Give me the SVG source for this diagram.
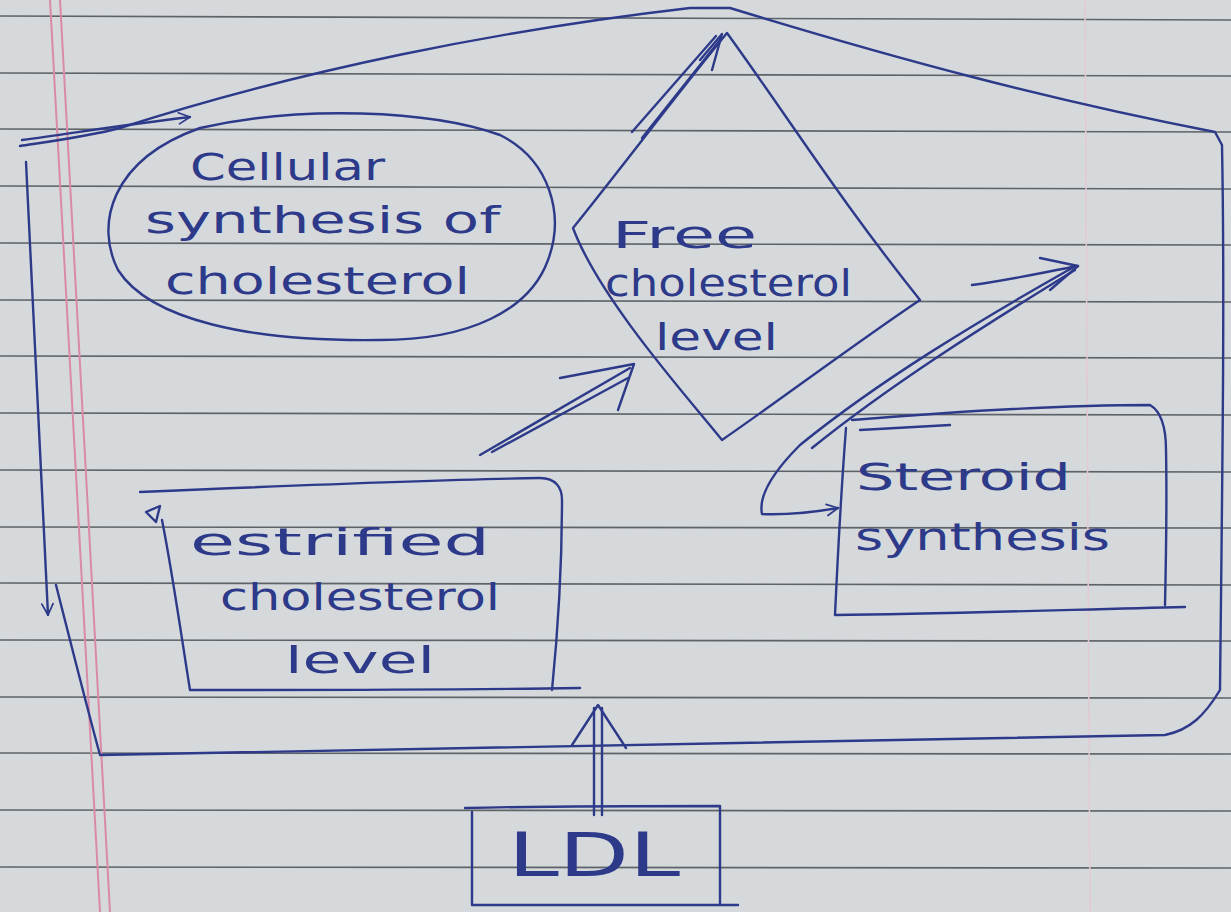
<svg xmlns="http://www.w3.org/2000/svg" width="1231" height="912" viewBox="0 0 1231 912">
<defs>
<style>
.paper{fill:#d6d9dc}
.rule{stroke:#5d6369;stroke-width:1.6;fill:none}
.margin{stroke:#d98aa6;stroke-width:2;fill:none}
.ink{stroke:#2d3a8a;stroke-width:2.4;fill:none;stroke-linecap:round;stroke-linejoin:round}
.txt{fill:#2d3a8a;font-family:"DejaVu Sans","Liberation Sans",sans-serif;font-size:38px}
</style>
<marker id="ah" viewBox="0 0 20 20" refX="18" refY="10" markerWidth="14" markerHeight="14" markerUnits="userSpaceOnUse" orient="auto-start-reverse">
<path d="M2,2 L18,10 L2,18" fill="none" stroke="#2d3a8a" stroke-width="2.5" stroke-linecap="round" stroke-linejoin="round"/>
</marker>
</defs>
<rect class="paper" x="0" y="0" width="1231" height="912"/>
<g id="paper-rules">
<path class="rule" d="M0,16 L1231,20 M0,73 L1231,76 M0,129 L1231,132 M0,186 L1231,189 M0,243 L1231,245 M0,300 L1231,302 M0,356 L1231,358 M0,413 L1231,415 M0,470 L1231,472 M0,527 L1231,528 M0,583 L1231,585 M0,640 L1231,641 M0,697 L1231,698 M0,753 L1231,754 M0,810 L1231,811 M0,867 L1231,868"/>
<path class="margin" d="M50,0 L100,912 M60,0 L110,912"/>
<path d="M1085,0 L1090,912" stroke="#e3c9d2" stroke-width="1.5" fill="none"/>
</g>
<g id="connectors">
<path class="ink" d="M20,146 C60,140 90,136 120,128 C300,70 500,30 690,8 L730,8 C900,60 1050,100 1215,132 L1222,145 C1225,300 1222,500 1220,690 C1205,715 1190,730 1165,735 C900,740 500,748 100,755 C85,700 70,640 56,585"/>
<path class="ink" d="M26,162 C32,300 40,450 48,615" marker-end="url(#ah)"/>
<path class="ink" d="M22,140 C80,132 130,124 190,117" marker-end="url(#ah)"/>
<path class="ink" d="M632,132 L716,36 M642,138 L720,40"/>
<path class="ink" d="M700,60 L722,34 L712,70"/>
<path class="ink" d="M480,455 L630,368 M492,452 L628,378"/>
<path class="ink" d="M560,378 L634,364 L618,410"/>
<path class="ink" d="M1072,268 C980,320 880,380 800,445 C775,470 758,495 762,514 C790,515 815,512 838,508" marker-end="url(#ah)"/>
<path class="ink" d="M1075,270 C985,325 890,385 812,448"/>
<path class="ink" d="M972,285 C1010,280 1045,272 1078,266"/>
<path class="ink" d="M1040,258 L1078,266 L1050,290"/>
<path class="ink" d="M594,815 L594,708 M602,815 L602,708"/>
<path class="ink" d="M572,745 L598,705 L626,748"/>
</g>
<g id="cellular-synthesis">
<path class="ink" d="M200,128 C300,105 430,110 500,135 C550,160 565,215 548,260 C530,310 470,340 380,340 C250,342 150,320 118,270 C95,225 110,160 200,128 Z"/>
<text class="txt" x="190" y="180" textLength="195" lengthAdjust="spacingAndGlyphs">Cellular</text>
<text class="txt" x="145" y="233" textLength="355" lengthAdjust="spacingAndGlyphs">synthesis of</text>
<text class="txt" x="165" y="294" textLength="305" lengthAdjust="spacingAndGlyphs">cholesterol</text>
</g>
<g id="free-cholesterol">
<path class="ink" d="M727,33 C790,120 840,200 920,300 C860,340 780,400 722,440 C690,400 600,300 573,228 C620,170 680,90 727,33 Z"/>
<text class="txt" x="612" y="248" textLength="145" lengthAdjust="spacingAndGlyphs">Free</text>
<text class="txt" x="605" y="296" textLength="247" lengthAdjust="spacingAndGlyphs">cholesterol</text>
<text class="txt" x="655" y="350" textLength="123" lengthAdjust="spacingAndGlyphs">level</text>
</g>
<g id="estrified-cholesterol">
<path class="ink" d="M140,492 C280,486 420,480 540,478 C556,478 562,488 562,500 C562,560 558,630 552,690 M580,688 C450,690 300,690 190,690 C182,640 172,570 162,520"/>
<path class="ink" d="M146,512 L160,506 L156,522 Z"/>
<text class="txt" x="190" y="555" textLength="300" lengthAdjust="spacingAndGlyphs">estrified</text>
<text class="txt" x="220" y="610" textLength="280" lengthAdjust="spacingAndGlyphs">cholesterol</text>
<text class="txt" x="285" y="673" textLength="150" lengthAdjust="spacingAndGlyphs">level</text>
</g>
<g id="steroid-synthesis">
<path class="ink" d="M852,420 C950,412 1050,405 1150,405 C1162,412 1166,430 1166,450 C1167,500 1166,560 1165,605 M1185,607 C1060,610 940,614 835,615 C838,550 842,480 846,428"/>
<path class="ink" d="M860,430 L950,425" stroke-width="1.5"/>
<text class="txt" x="856" y="490" textLength="215" lengthAdjust="spacingAndGlyphs">Steroid</text>
<text class="txt" x="855" y="550" textLength="255" lengthAdjust="spacingAndGlyphs">synthesis</text>
</g>
<g id="ldl">
<path class="ink" d="M465,808 C550,806 640,806 720,806 L720,905 M472,812 L472,905 L738,905"/>
<text class="txt" x="508" y="876" textLength="172" lengthAdjust="spacingAndGlyphs" style="font-size:60px">LDL</text>
</g>
</svg>
